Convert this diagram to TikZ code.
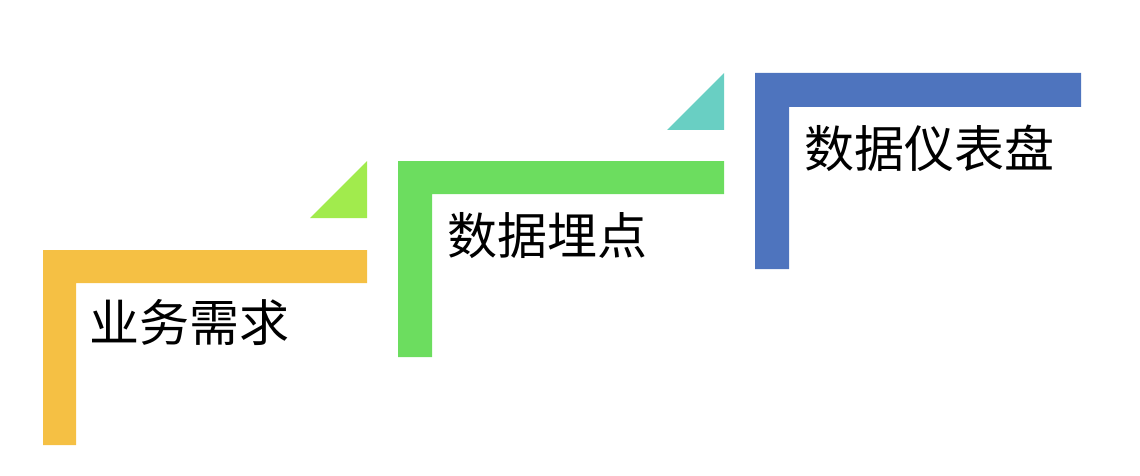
\documentclass[tikz,border=0pt]{standalone}
\usepackage{fontspec}
\newfontfamily\cjk{Noto Sans CJK SC}
\usetikzlibrary{positioning}
\definecolor{stepyellow}{HTML}{F5C044}
\definecolor{steplime}{HTML}{A1EB4D}
\definecolor{stepgreen}{HTML}{6CDD5F}
\definecolor{stepteal}{HTML}{69CFC3}
\definecolor{stepblue}{HTML}{4E74BE}

\begin{document}
\begin{tikzpicture}[
                x = 1pt, y = -1pt, % pixel grid, y going down
                font = \cjk\fontsize{50}{50}\selectfont
                ]
                \tikzstyle{stepname}=[
                    inner sep = 0pt,
                    anchor = west,
                    text = black,
                ]
                \useasboundingbox (0,0) rectangle (1140,476);

                % corners of the three steps
                \coordinate (c1) at (43,250);
                \coordinate (c2) at (398,161);
                \coordinate (c3) at (755,73);

                % step 1
                \fill[stepyellow] (c1) -- (367,250) -- (367,283) -- (76,283)
                    -- (76,445) -- (43,445) -- cycle;
                \fill[steplime] (310,218) -- (367,161) -- (367,218) -- cycle;
                \node[stepname] (need) at (89,323) {业务需求};

                % step 2
                \fill[stepgreen] (c2) -- (724,161) -- (724,194) -- (432,194)
                    -- (432,357) -- (398,357) -- cycle;
                \fill[stepteal] (667,130) -- (724,73) -- (724,130) -- cycle;
                \node[stepname] (track) at (447,236) {数据埋点};

                % step 3
                \fill[stepblue] (c3) -- (1081,73) -- (1081,107) -- (789,107)
                    -- (789,269) -- (755,269) -- cycle;
                \node[stepname] (board) at (804,148) {数据仪表盘};
            \end{tikzpicture}
\end{document}
